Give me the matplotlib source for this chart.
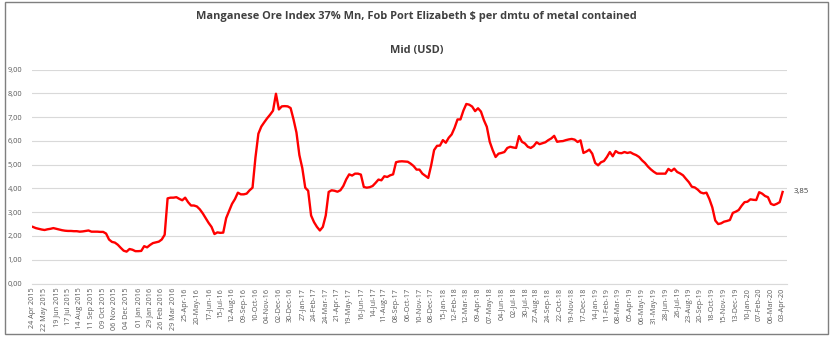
import matplotlib
matplotlib.use("Agg")
import matplotlib.pyplot as plt
from matplotlib.patches import Rectangle

tick_labels = [
    "24 Apr 2015", "22 May 2015", "19 Jun 2015", "17 Jul 2015", "14 Aug 2015",
    "11 Sep 2015", "09 Oct 2015", "06 Nov 2015", "04 Dec 2015", "01 Jan 2016",
    "29 Jan 2016", "26 Feb 2016", "29 Mar 2016", "25-Apr-16", "20-May-16",
    "17-Jun-16", "15-Jul-16", "12-Aug-16", "09-Sep-16", "10-Oct-16",
    "04-Nov-16", "02-Dec-16", "30-Dec-16", "27-Jan-17", "24-Feb-17",
    "24-Mar-17", "21-Apr-17", "19-May-17", "16-Jun-17", "14-Jul-17",
    "11-Aug-17", "08-Sep-17", "06-Oct-17", "10-Nov-17", "08-Dec-17",
    "15-Jan-18", "12-Feb-18", "12-Mar-18", "09-Apr-18", "07-May-18",
    "04-Jun-18", "02-Jul-18", "30-Jul-18", "27-Aug-18", "24-Sep-18",
    "22-Oct-18", "19-Nov-18", "17-Dec-18", "14-Jan-19", "11-Feb-19",
    "08-Mar-19", "05-Apr-19", "06-May-19", "31-May-19", "28-Jun-19",
    "26-Jul-19", "23-Aug-19", "20-Sep-19", "18-Oct-19", "15-Nov-19",
    "13-Dec-19", "10-Jan-20", "07-Feb-20", "06-Mar-20", "03-Apr-20",
]

mid_2015 = [2.38, 2.33, 2.30, 2.27, 2.25, 2.28, 2.30, 2.33, 2.30, 2.27,
            2.24, 2.22, 2.21, 2.21, 2.20, 2.20, 2.18, 2.19, 2.21, 2.23,
            2.18, 2.18, 2.18, 2.17, 2.17, 2.10, 1.85, 1.75, 1.72, 1.63,
            1.50, 1.38, 1.34, 1.45, 1.42, 1.36, 1.36, 1.37]
mid_2016 = [1.57, 1.52, 1.62, 1.70, 1.73, 1.76, 1.85, 2.05, 3.58, 3.61,
            3.61, 3.63, 3.56, 3.50, 3.61, 3.42, 3.28, 3.28, 3.24, 3.12,
            2.95, 2.75, 2.55, 2.38, 2.08, 2.15, 2.13, 2.14, 2.75, 3.05,
            3.35, 3.55, 3.82, 3.75, 3.75, 3.78, 3.92, 4.03, 5.30, 6.30,
            6.60, 6.78, 6.95, 7.10, 7.27, 7.98, 7.32, 7.45, 7.46, 7.45,
            7.38, 6.90, 6.35]
mid_2017 = [5.40, 4.85, 4.03, 3.90, 2.86, 2.58, 2.38, 2.23, 2.38, 2.86,
            3.85, 3.92, 3.90, 3.86, 3.92, 4.10, 4.38, 4.59, 4.54, 4.62,
            4.62, 4.58, 4.06, 4.03, 4.05, 4.10, 4.23, 4.37, 4.34, 4.51,
            4.48, 4.55, 4.59, 5.10, 5.13, 5.14, 5.13, 5.12, 5.04, 4.94,
            4.79, 4.79, 4.62, 4.53, 4.44, 4.97, 5.61, 5.79, 5.80, 6.03,
            5.92, 6.13]
mid_2018 = [6.27, 6.55, 6.90, 6.90, 7.27, 7.55, 7.52, 7.44, 7.25, 7.37,
            7.23, 6.87, 6.59, 5.96, 5.61, 5.32, 5.46, 5.49, 5.53, 5.70,
            5.75, 5.72, 5.70, 6.20, 5.96, 5.89, 5.75, 5.70, 5.78, 5.94,
            5.86, 5.90, 5.94, 6.03, 6.10, 6.21, 5.96, 5.98, 5.99, 6.03,
            6.06, 6.08, 6.05, 5.95, 6.02, 5.49, 5.55, 5.63, 5.46, 5.07]
mid_2019 = [4.97, 5.10, 5.15, 5.32, 5.53, 5.35, 5.57, 5.49, 5.48, 5.53,
            5.49, 5.52, 5.45, 5.40, 5.32, 5.18, 5.07, 4.92, 4.80, 4.70,
            4.62, 4.62, 4.62, 4.62, 4.82, 4.73, 4.83, 4.69, 4.63, 4.55,
            4.40, 4.26, 4.07, 4.04, 3.95, 3.83, 3.79, 3.82, 3.55, 3.20,
            2.65, 2.50, 2.53, 2.60, 2.63, 2.67, 2.97, 3.02, 3.09, 3.27,
            3.42, 3.44, 3.54, 3.52]
mid_2020 = [3.51, 3.84, 3.78, 3.68, 3.63, 3.35, 3.30, 3.35, 3.42, 3.85]

values = mid_2015 + mid_2016 + mid_2017 + mid_2018 + mid_2019 + mid_2020
x = list(range(len(values)))
tick_pos = list(range(0, len(values), 4))[:len(tick_labels)]

plt.rcParams['font.family'] = ['Open Sans', 'DejaVu Sans']

W, H = 833, 339
fig = plt.figure(figsize=(W / 100, H / 100), dpi=100)
fig.patches.append(Rectangle((5 / W, 1 - 334 / H), 823 / W, 332 / H,
                             transform=fig.transFigure, fill=False,
                             edgecolor='#7f7f7f', linewidth=1.0))

left, right = 32 / W, 787 / W
bottom, top = 1 - 283.5 / H, 1 - 69.5 / H
ax = fig.add_axes([left, bottom, right - left, top - bottom])

ax.plot(x, values, color='#ff0000', linewidth=1.7, solid_joinstyle='round')
ax.set_xlim(-0.3, len(values) - 1 + 1.5)
ax.set_ylim(0, 9)
ax.set_yticks(range(0, 10))
ax.set_yticklabels([f"{v},00" for v in range(0, 10)], fontsize=5.3, color='#595959')
ax.set_xticks(tick_pos)
ax.set_xticklabels(tick_labels, rotation=90, fontsize=5.2, color='#595959')
ax.tick_params(axis='both', length=0, pad=3)
ax.tick_params(axis='y', pad=7)
ax.grid(axis='y', color='#d9d9d9', linewidth=0.8)
ax.set_axisbelow(True)
for s in ['top', 'right', 'left']:
    ax.spines[s].set_visible(False)
ax.spines['bottom'].set_color('#d9d9d9')
ax.spines['bottom'].set_linewidth(0.8)

ax.annotate(f"{values[-1]:.2f}".replace('.', ','), xy=(x[-1], values[-1]),
            xytext=(8, 0), textcoords='offset points', va='center', ha='left',
            fontsize=5.6, color='#404040')

fig.text(0.5, 1 - 17 / H, "Manganese Ore Index 37% Mn, Fob Port Elizabeth $ per dmtu of metal contained",
         ha='center', va='center', fontsize=7.9, fontweight='bold', color='#404040')
fig.text(0.5, 1 - 50 / H, "Mid (USD)", ha='center', va='center',
         fontsize=7.9, fontweight='bold', color='#404040')

fig.savefig("out.png", dpi=100)
